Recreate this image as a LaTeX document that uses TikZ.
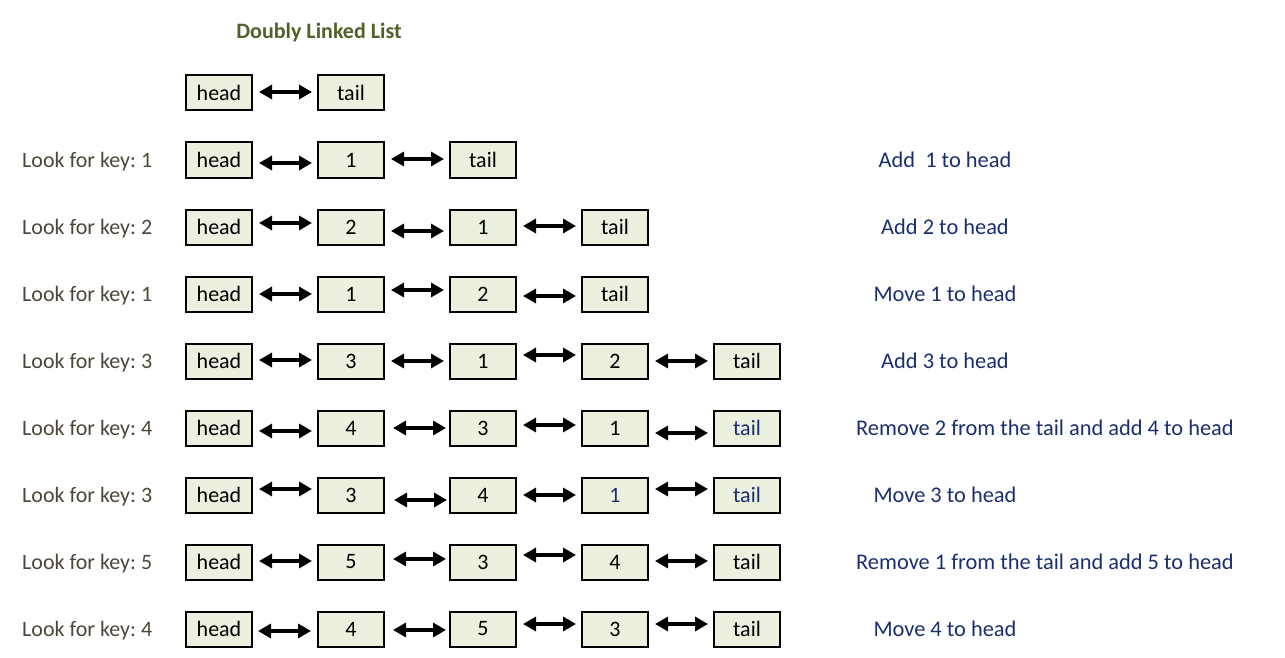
\documentclass[tikz,border=0pt]{standalone}
\usepackage{fontspec}
\setmainfont{Carlito}
\frenchspacing
\usetikzlibrary{arrows.meta}
\definecolor{cellfill}{HTML}{EBF1DE}
\definecolor{titlegreen}{HTML}{4F6228}
\definecolor{lefttext}{HTML}{4E463A}
\definecolor{righttext}{HTML}{1B2F6E}
\tikzset{
  cell/.style={draw=black, line width=2pt, fill=cellfill, minimum width=66pt, minimum height=35pt, inner sep=0pt, font=\fontsize{22}{24}\selectfont},
  dlink/.style={line width=3.2pt, {Triangle[length=13pt,width=14pt]}-{Triangle[length=13pt,width=14pt]}},
  lefttxt/.style={anchor=west, inner sep=0pt, text=lefttext, font=\fontsize{22}{24}\selectfont},
  righttxt/.style={inner sep=0pt, text=righttext, font=\fontsize{22.4}{24}\selectfont},
  titletxt/.style={inner sep=0pt, text=titlegreen, font=\bfseries\fontsize{22}{24}\selectfont}
}
% \lnk{from}{to}{dy px down}{dx px right}
\newcommand{\lnk}[4]{\draw[dlink] ([xshift=6pt+#4pt,yshift=-#3pt]#1.east) -- ([xshift=-5pt+#4pt,yshift=-#3pt]#2.west);}
\begin{document}
\begin{tikzpicture}[x=1pt,y=-1pt]
\useasboundingbox (0,0) rectangle (1285,658);
\node[titletxt] (title) at (319,33) {Doubly Linked List};

% row 0
\node[cell] (a0) at (219,93) {head};
\node[cell] (b0) at (351,93) {tail};
\lnk{a0}{b0}{-1}{0}

% row 1
\node[lefttxt] (l1) at (22,161.5) {Look for key: 1};
\node[cell] (a1) at (219,160) {head};
\node[cell] (b1) at (351,160) {1};
\node[cell] (c1) at (483,160) {tail};
\node[righttxt] (r1) at (945,160) {Add\ \ 1 to head};
\lnk{a1}{b1}{3}{0}
\lnk{b1}{c1}{-1}{0}

% row 2
\node[lefttxt] (l2) at (22,228.5) {Look for key: 2};
\node[cell] (a2) at (219,227) {head};
\node[cell] (b2) at (351,227) {2};
\node[cell] (c2) at (483,227) {1};
\node[cell] (d2) at (615,227) {tail};
\node[righttxt] (r2) at (945,227) {Add 2 to head};
\lnk{a2}{b2}{-4}{0}
\lnk{b2}{c2}{4}{0}
\lnk{c2}{d2}{-1}{0}

% row 3
\node[lefttxt] (l3) at (22,295.5) {Look for key: 1};
\node[cell] (a3) at (219,294) {head};
\node[cell] (b3) at (351,294) {1};
\node[cell] (c3) at (483,294) {2};
\node[cell] (d3) at (615,294) {tail};
\node[righttxt] (r3) at (945,294) {Move 1 to head};
\lnk{a3}{b3}{0}{0}
\lnk{b3}{c3}{-4}{0}
\lnk{c3}{d3}{2}{0}

% row 4
\node[lefttxt] (l4) at (22,362.5) {Look for key: 3};
\node[cell] (a4) at (219,361) {head};
\node[cell] (b4) at (351,361) {3};
\node[cell] (c4) at (483,361) {1};
\node[cell] (d4) at (615,361) {2};
\node[cell] (e4) at (747,361) {tail};
\node[righttxt] (r4) at (945,361) {Add 3 to head};
\lnk{a4}{b4}{-1}{0}
\lnk{b4}{c4}{0}{0}
\lnk{c4}{d4}{-6}{0}
\lnk{d4}{e4}{0}{0}

% row 5
\node[lefttxt] (l5) at (22,429.5) {Look for key: 4};
\node[cell] (a5) at (219,428) {head};
\node[cell] (b5) at (351,428) {4};
\node[cell] (c5) at (483,428) {3};
\node[cell] (d5) at (615,428) {1};
\node[cell, text=righttext] (e5) at (747,428) {tail};
\node[righttxt, anchor=west] (r5) at (856,428) {Remove 2 from the tail and add 4 to head};
\lnk{a5}{b5}{3}{0}
\lnk{b5}{c5}{0}{2}
\lnk{c5}{d5}{-3}{0}
\lnk{d5}{e5}{5}{0}

% row 6
\node[lefttxt] (l6) at (22,496.5) {Look for key: 3};
\node[cell] (a6) at (219,495) {head};
\node[cell] (b6) at (351,495) {3};
\node[cell] (c6) at (483,495) {4};
\node[cell, text=righttext] (d6) at (615,495) {1};
\node[cell, text=righttext] (e6) at (747,495) {tail};
\node[righttxt] (r6) at (945,495) {Move 3 to head};
\lnk{a6}{b6}{-6}{0}
\lnk{b6}{c6}{5}{3}
\lnk{c6}{d6}{0}{0}
\lnk{d6}{e6}{-6}{0}

% row 7
\node[lefttxt] (l7) at (22,563.5) {Look for key: 5};
\node[cell] (a7) at (219,562) {head};
\node[cell] (b7) at (351,562) {5};
\node[cell] (c7) at (483,562) {3};
\node[cell] (d7) at (615,562) {4};
\node[cell] (e7) at (747,562) {tail};
\node[righttxt, anchor=west] (r7) at (856,562) {Remove 1 from the tail and add 5 to head};
\lnk{a7}{b7}{-1}{0}
\lnk{b7}{c7}{-3}{2}
\lnk{c7}{d7}{-7}{0}
\lnk{d7}{e7}{-1}{0}

% row 8
\node[lefttxt] (l8) at (22,630.5) {Look for key: 4};
\node[cell] (a8) at (219,629) {head};
\node[cell] (b8) at (351,629) {4};
\node[cell] (c8) at (483,629) {5};
\node[cell] (d8) at (615,629) {3};
\node[cell] (e8) at (747,629) {tail};
\node[righttxt] (r8) at (945,629) {Move 4 to head};
\lnk{a8}{b8}{2}{-1}
\lnk{b8}{c8}{1}{2}
\lnk{c8}{d8}{-5}{0}
\lnk{d8}{e8}{-5}{0}
\end{tikzpicture}
\end{document}
